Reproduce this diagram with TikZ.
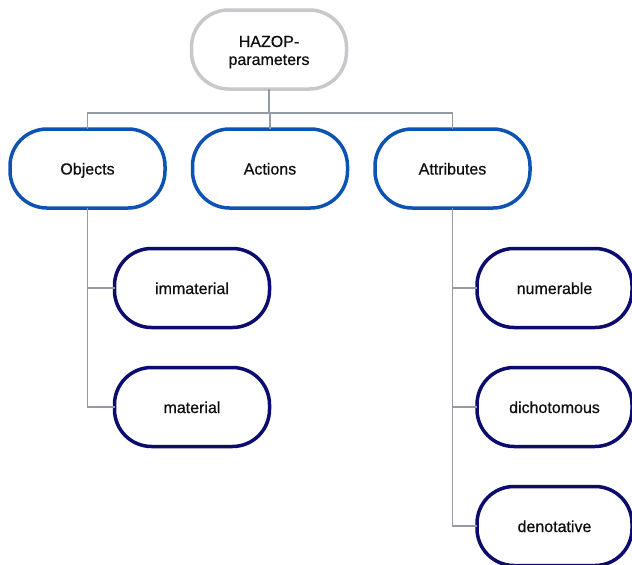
\documentclass[tikz,border=0pt]{standalone}
\usepackage{fontspec}
\setmainfont{Liberation Sans}[FakeBold=0.6]
\definecolor{rootc}{RGB}{200,200,204}
\definecolor{levelc}{RGB}{14,82,178}
\definecolor{leafc}{RGB}{12,12,110}
\definecolor{connc}{RGB}{150,154,164}
\definecolor{txtc}{RGB}{15,15,15}
\tikzset{
  pill/.style={rectangle, rounded corners=37pt, line width=3.5pt, fill=white,
    minimum width=155pt, minimum height=79pt, inner sep=0pt, outer sep=0pt,
    align=center, font=\fontsize{16}{19}\selectfont, text=txtc},
  onerow/.style={text height=13.5pt, text depth=1.5pt},
  rootbox/.style={pill, draw=rootc},
  levelbox/.style={pill, onerow, draw=levelc},
  leafbox/.style={pill, onerow, draw=leafc},
  conn/.style={draw=connc, line width=1.6pt}
}
\begin{document}
\begin{tikzpicture}[x=1pt,y=-1pt]
\useasboundingbox (0,0) rectangle (632,565);
\node[rootbox] (root) at (269,49.5) {\raisebox{-7pt}[0pt][0pt]{\begin{tabular}{@{}c@{}}HAZOP-\\[-1pt]parameters\end{tabular}}};
\node[levelbox] (objects) at (87.5,168.5) {Objects};
\node[levelbox] (actions) at (270,168.5) {Actions};
\node[levelbox] (attributes) at (452.5,168.5) {Attributes};
\node[leafbox] (immaterial) at (192,288) {immaterial};
\node[leafbox] (material) at (192,407) {material};
\node[leafbox] (numerable) at (554.5,288) {numerable};
\node[leafbox] (dichotomous) at (554.5,407) {dichotomous};
\node[leafbox] (denotative) at (554.5,526) {denotative};
\coordinate (bus) at (269,113);
\draw[conn] (root.south) -- (bus);
\draw[conn] (objects.north) -- (objects.north |- bus) -- (attributes.north |- bus) -- (attributes.north);
\draw[conn] (actions.north) -- (actions.north |- bus);
\draw[conn] (objects.south) |- (immaterial.west);
\draw[conn] (objects.south) |- (material.west);
\draw[conn] (attributes.south) |- (numerable.west);
\draw[conn] (attributes.south) |- (dichotomous.west);
\draw[conn] (attributes.south) |- (denotative.west);
\end{tikzpicture}
\end{document}
